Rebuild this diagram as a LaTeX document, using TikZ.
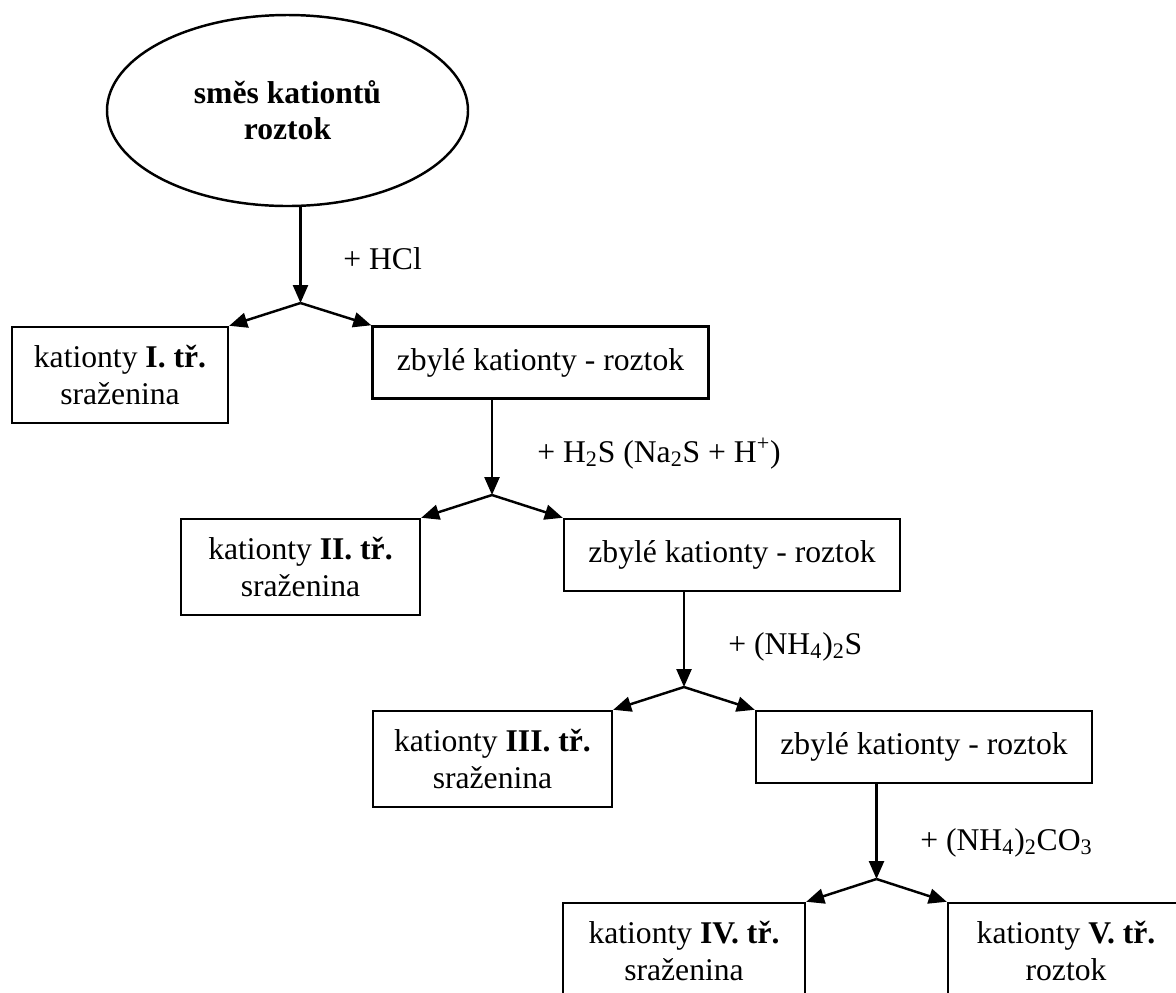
\documentclass[tikz,border=0pt]{standalone}
\usepackage{fontspec}
\setmainfont{Liberation Serif}
\usetikzlibrary{shapes.geometric, arrows.meta}
\newcommand\unitpx{0.02}
\tikzset{chartfont/.style={font=\fontsize{18}{21}\selectfont}}
\tikzset{precip/.style={rectangle, draw=black, line width=1.4pt, inner sep=0pt, align=center, chartfont, minimum width=239*\unitpx cm, minimum height=96*\unitpx cm}}
\tikzset{rest/.style={precip, minimum width=336*\unitpx cm, minimum height=72*\unitpx cm}}
\tikzset{mixture/.style={ellipse, draw=black, line width=1.4pt, inner sep=0pt, align=center, font=\fontsize{18}{20.5}\selectfont\bfseries, minimum width=361*\unitpx cm, minimum height=191*\unitpx cm}}
\tikzset{reagent/.style={chartfont, anchor=base west, inner sep=0pt}}
\tikzset{arrow/.style={line width=1.4pt, -{Triangle[length=0.36cm, width=0.3cm]}}}

\begin{document}
\begin{tikzpicture}[x=\unitpx cm, y=-\unitpx cm]
\clip (0,0) rectangle (1176,992);
% starting solution
\node[mixture] (mix) at (287.5,110.5) {směs kationtů\\roztok};
% branch points
\foreach \i/\bx/\by in {1/300.5/303, 2/492/495, 3/684/687, 4/876.5/879}
	\coordinate (br\i) at (\bx,\by);
% group I
\node[precip, minimum width=216*\unitpx cm] (prec1) at (120,375) {kationty \textbf{I. tř.}\\sraženina};
\node[rest] (rest1) at (540.5,362.5) {zbylé kationty - roztok};
\node[reagent] (reag1) at (343,269) {+ HCl};
% group II
\node[precip] (prec2) at (300.5,567) {kationty \textbf{II. tř.}\\sraženina};
\node[rest] (rest2) at (732,555) {zbylé kationty - roztok};
\node[reagent] (reag2) at (537,462) {+ H\textsubscript{2}S (Na\textsubscript{2}S + H\textsuperscript{+})};
% group III
\node[precip] (prec3) at (492.5,759) {kationty \textbf{III. tř.}\\sraženina};
\node[rest] (rest3) at (924,747) {zbylé kationty - roztok};
\node[reagent] (reag3) at (728,654) {+ (NH\textsubscript{4})\textsubscript{2}S};
% groups IV and V
\node[precip, minimum width=242*\unitpx cm] (prec4) at (684,951) {kationty \textbf{IV. tř.}\\sraženina};
\node[precip, minimum width=236*\unitpx cm] (rest4) at (1066,951) {kationty \textbf{V. tř.}\\roztok};
\node[reagent] (reag4) at (920,850) {+ (NH\textsubscript{4})\textsubscript{2}CO\textsubscript{3}};
% arrows
\foreach \i/\from in {1/mix, 2/rest1, 3/rest2, 4/rest3} {
	\draw[arrow] (br\i |- \from.south) -- (br\i);
	\draw[arrow] (br\i) -- (prec\i.north east);
	\draw[arrow] (br\i) -- (rest\i.north west);
}
\end{tikzpicture}
\end{document}
